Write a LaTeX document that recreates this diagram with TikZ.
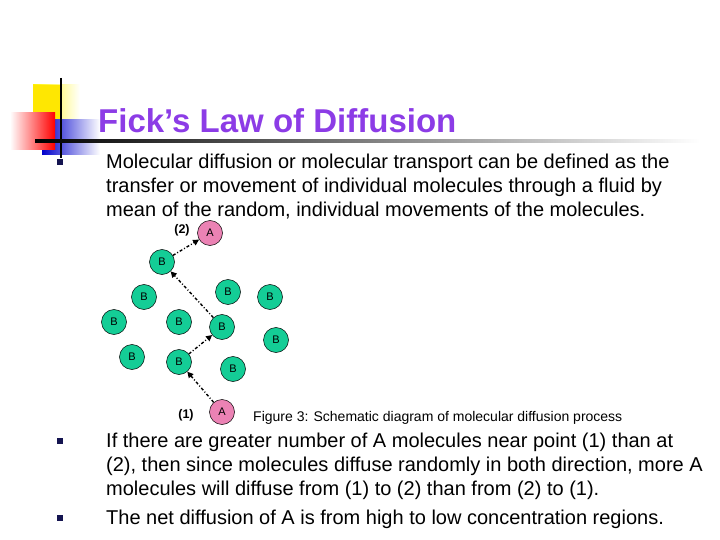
\documentclass[tikz,border=0pt]{standalone}
\usepackage{fontspec}
\setmainfont{Liberation Sans}
\usetikzlibrary{arrows.meta}
\definecolor{bgreen}{RGB}{20,205,150}
\definecolor{apink}{RGB}{235,130,180}
\definecolor{titlep}{RGB}{140,60,230}
\definecolor{bul}{RGB}{20,20,80}
\tikzset{
 mol/.style={circle,draw=black,line width=0.5pt,minimum size=25pt,inner sep=0pt,font=\fontsize{11}{11}\selectfont},
 bmol/.style={mol,fill=bgreen},
 amol/.style={mol,fill=apink},
 path/.style={-{Triangle[length=6pt,width=6pt]},line width=1.4pt,dash pattern=on 3pt off 2pt on 1pt off 2pt},
 body/.style={anchor=north west,font=\fontsize{20}{24}\selectfont,align=left,inner sep=0pt},
 bullet/.style={fill=bul,minimum size=6.5pt,inner sep=0pt}
}
\begin{document}
\begin{tikzpicture}[x=1pt,y=-1pt]
\useasboundingbox (0,0) rectangle (720,540);
% decoration
\shade[left color=yellow!90!orange,right color=white] (33,85) rectangle (80,125);
\fill[yellow!90!orange] (33,85) rectangle (62,125);
\shade[left color=blue!80!black,right color=white] (42,120) rectangle (100,155);
\shade[left color=white,right color=red] (10,113) rectangle (55,150);
\draw[line width=1.5pt] (61,78) -- (61,158);
\shade[left color=black,right color=white] (35,140) rectangle (700,142.5);
\node[anchor=base west,inner sep=0pt,text=titlep,font=\fontsize{33}{33}\selectfont\bfseries] (t) at (98,133) {Fick’s Law of Diffusion};
% bullets
\node[bullet] (b1) at (60,162) {};
\node[bullet] (b2) at (60,441) {};
\node[bullet] (b3) at (60,518) {};
\node[body] (p1) at (106,154) {Molecular diffusion or molecular transport can be defined as the\\transfer or movement of individual molecules through a fluid by\\mean of the random, individual movements of the molecules.};
\node[body] (p2) at (106,433) {If there are greater number of A molecules near point (1) than at\\(2), then since molecules diffuse randomly in both direction, more A\\molecules will diffuse from (1) to (2) than from (2) to (1).};
\node[body] (p3) at (106,510) {The net diffusion of A is from high to low concentration regions.};
% molecules
\node[amol] (a2) at (210,233) {A};
\node[amol] (a1) at (222,412) {A};
\node[bmol] (m1) at (162,262) {B};
\node[bmol] (m2) at (144,297) {B};
\node[bmol] (m3) at (228,292) {B};
\node[bmol] (m4) at (270,297) {B};
\node[bmol] (m5) at (114,322) {B};
\node[bmol] (m6) at (179,322) {B};
\node[bmol] (m7) at (222,327) {B};
\node[bmol] (m8) at (276,340) {B};
\node[bmol] (m9) at (132,357) {B};
\node[bmol] (m10) at (179,362) {B};
\node[bmol] (m11) at (233,369) {B};
\node[font=\fontsize{12.5}{12.5}\selectfont\bfseries] (l2) at (182,230) {(2)};
\node[font=\fontsize{12.5}{12.5}\selectfont\bfseries] (l1) at (186,415) {(1)};
\node[anchor=west,inner sep=0pt,font=\fontsize{14}{14}\selectfont] (cap) at (253,418) {Figure 3: Schematic diagram of molecular diffusion process};
\draw[path] (a1) -- (m10);
\draw[path] (m10) -- (m7);
\draw[path] (m7) -- (m1);
\draw[path] (m1) -- (a2);
\end{tikzpicture}
\end{document}
